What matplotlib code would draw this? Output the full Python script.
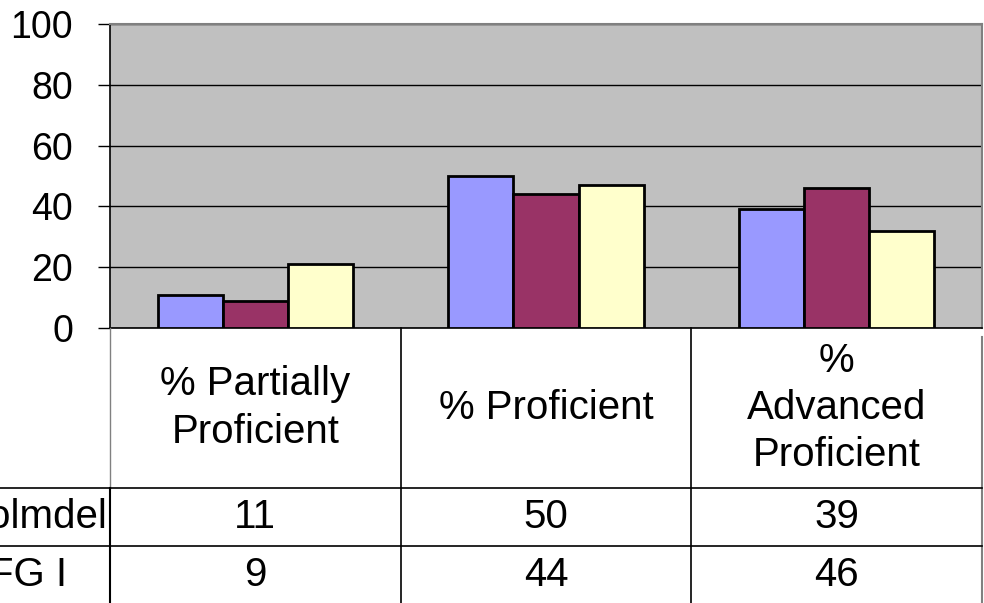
import matplotlib.pyplot as plt
import matplotlib.transforms as mtransforms
import numpy as np

plt.rcParams["font.family"] = ["Liberation Sans", "DejaVu Sans"]

# data
categories = ["% Partially\nProficient", "% Proficient", "%\nAdvanced\nProficient"]
series_names = ["Holmdel", "DFG I", "State"]
holmdel = [11, 50, 39]
dfg_i = [9, 44, 46]
state = [21, 47, 32]
yticks = [0, 20, 40, 60, 80, 100]

colors = ["#9999FF", "#993366", "#FFFFCC"]

W, H = 984, 603
fig = plt.figure(figsize=(W / 100, H / 100), dpi=100)

# plot area (pixels: x 110..982, y 24..328)
ax = fig.add_axes([110 / W, 1 - 328 / H, 872 / W, 304 / H])
ax.set_facecolor("#C0C0C0")

x = np.arange(len(categories))
bw = 0.224
for i, vals in enumerate([holmdel, dfg_i, state]):
    ax.bar(x + (i - 1) * bw, vals, width=bw, color=colors[i],
           edgecolor="black", linewidth=2.0, zorder=3)

ax.set_xlim(-0.5, len(categories) - 0.5)
ax.set_ylim(0, 100)
ax.set_yticks(yticks)
ax.set_xticks([])
ax.yaxis.grid(True, color="black", linewidth=1, zorder=1)
ax.set_axisbelow(True)
ax.tick_params(axis="y", length=8.6, width=1, pad=18, labelsize=27)
for s in ["left", "bottom"]:
    ax.spines[s].set_color("black")
    ax.spines[s].set_linewidth(1.2)
for s in ["top", "right"]:
    ax.spines[s].set_color("#808080")
    ax.spines[s].set_linewidth(1.5)

# data table under the plot (pixels y 328..603)
tab = fig.add_axes([110 / W, 0, 872 / W, (H - 328) / H])
tab.set_xlim(-0.5, len(categories) - 0.5)
tab.set_ylim(H, 328)
tab.axis("off")

header_bottom = 488
row_line = 546
row_centers = [517, 575]

# column separators
for xc in [0.5, 1.5]:
    tab.plot([xc, xc], [328, H], color="black", lw=1.2, clip_on=False)
tab.plot([-0.5, -0.5], [328, header_bottom], color="#808080", lw=1, clip_on=False)
tab.plot([-0.5, -0.5], [header_bottom, H], color="black", lw=1.5, clip_on=False)
tab.plot([2.5, 2.5], [337, H], color="#808080", lw=1.5, clip_on=False)

# row separators reach into the label column
trans = mtransforms.blended_transform_factory(tab.transAxes, tab.transData)
left_frac = -110 / 872
for yr in [header_bottom, row_line]:
    tab.plot([left_frac, 1], [yr, yr], color="black", lw=1.2,
             transform=trans, clip_on=False)

# header text
for xi, cat in zip(x, categories):
    tab.text(xi, 408, cat, ha="center", va="center", fontsize=29,
             linespacing=1.31)

# rows
for name, vals, yc in zip(series_names[:2], [holmdel, dfg_i], row_centers):
    tab.text((-40 - 110) / 872, yc, name, ha="left", va="center", fontsize=29,
             transform=trans, clip_on=False)
    for xi, v in zip(x, vals):
        tab.text(xi, yc, str(v), ha="center", va="center", fontsize=29)

fig.savefig("out.png", dpi=100)
